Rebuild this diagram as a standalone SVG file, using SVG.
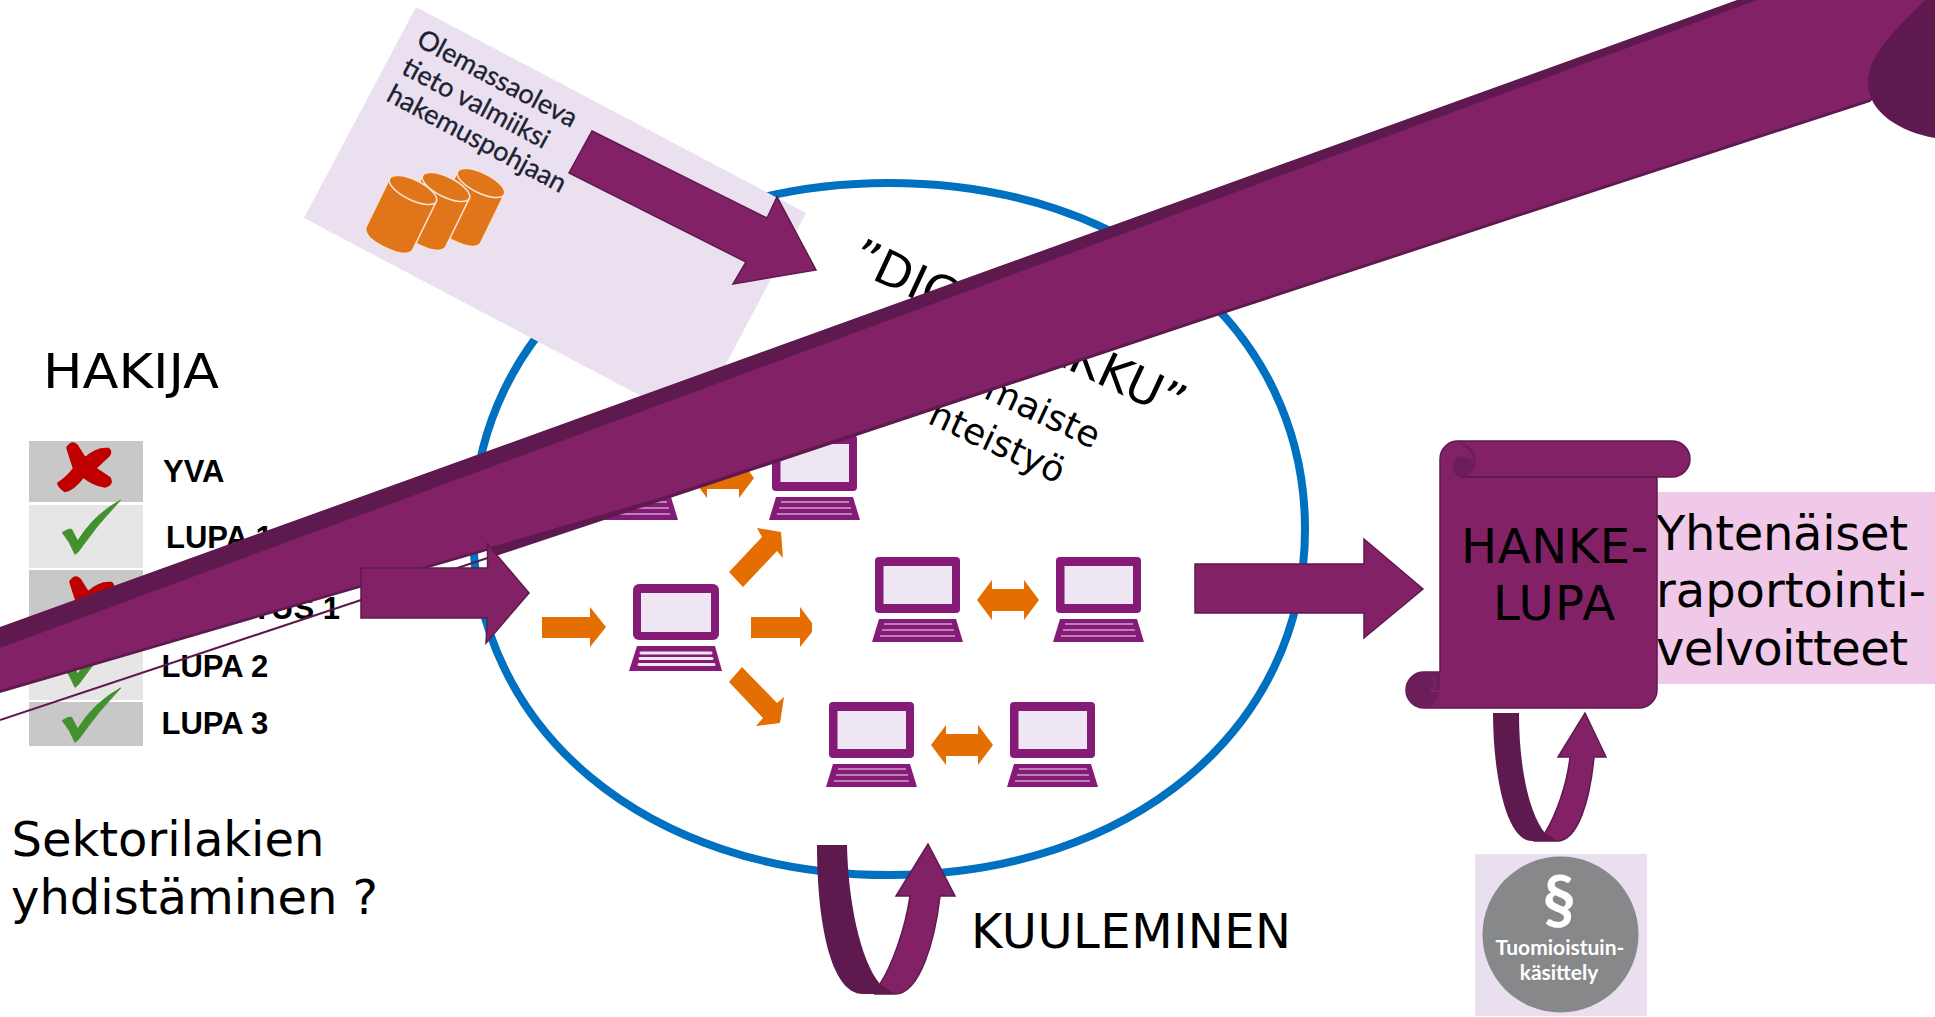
<svg xmlns="http://www.w3.org/2000/svg" xmlns:xlink="http://www.w3.org/1999/xlink" width="1935" height="1017" viewBox="0 0 1935 1017">
<style>
.t{font-family:"DejaVu Sans",sans-serif;font-size:48px;fill:#000}
.b{font-family:"Liberation Sans",Arial,sans-serif;font-size:31px;font-weight:700;fill:#000}
.g{font-family:Lato,"Open Sans",sans-serif;font-size:27px;fill:#1c2233;stroke:#1c2233;stroke-width:.3}
.c{font-family:Lato,"Open Sans",sans-serif;font-weight:700;fill:#fff;text-anchor:middle}
.p{fill:#832167;stroke:#5E1A4E;stroke-width:1.5}
.d{fill:#5E1A4E}
.o{fill:#E46E02}
.cy{fill:#E0751A;stroke:#F6E3D7;stroke-width:1.5}
.kb{stroke:#F0E6F2;stroke-width:1.2;fill:none}
</style>
<defs>
<g id="laptop">
<rect x="0" y="0" width="85" height="56" rx="4" fill="#851B76"/>
<rect x="8.500" y="9" width="68.500" height="38" fill="#EFE6F3"/>
<path d="M4,62H81L88,85H-3Z" fill="#851B76"/>
<path class="kb" d="M9,67H77M7,73H79M5,79H80"/>
</g>
<path id="cross" transform="translate(30,435) scale(.3333)" fill="#C00000" stroke="#C00000" stroke-width="7" stroke-linejoin="round" d="M112,38Q130,12 146,40L165,70Q200,38 235,42Q246,50 236,62L195,100L240,130Q248,150 225,155Q190,150 160,125Q130,165 105,168Q85,155 85,145Q115,125 132,100Q120,65 112,38Z"/>
<path id="check" transform="translate(30,435) scale(.3333)" fill="#43902F" stroke="#43902F" stroke-width="3" stroke-linejoin="round" d="M97,293Q115,280 125,283L143,318Q190,240 272,195Q200,270 145,350L135,358Q120,320 97,293Z"/>
<path id="dbl" class="o" d="M0,0L15,-20V-11H47V-20L62,0L47,20V11H15V20Z"/>
<g id="cyl"><path class="cy" d="M-26,0V54Q-24,64 0,64T26,54V0Z"/><ellipse class="cy" cx="0" cy="0" rx="26" ry="10"/></g>
</defs>

<g id="digi-circle">
<path fill="#fff" stroke="#0070C0" stroke-width="8" d="M473,529C473,328 648,183 889,183C1130,183 1305,328 1305,529C1305,730 1130,875 889,875C648,875 473,730 473,529Z"/>
<text class="t" transform="translate(848,268) rotate(25)">”DIG</text>
<text class="t" text-anchor="end" transform="translate(1176,420) rotate(25)">AKKU”</text>
<text class="t" style="font-size:36px" text-anchor="end" transform="translate(1093,449) rotate(25)">maiste</text>
<text class="t" style="font-size:36px" text-anchor="end" transform="translate(1058,484) rotate(25)">nteistyö</text>
</g>

<g id="existing-data">
<polygon points="416,7 806,213 694,424 304,218" fill="#EAE0EF"/>
<text class="g" transform="translate(415,45) rotate(28)">Olemassaoleva</text>
<text class="g" transform="translate(400,73) rotate(28)">tieto valmiiksi</text>
<text class="g" transform="translate(385,100) rotate(28)">hakemuspohjaan</text>
<use xlink:href="#cyl" href="#cyl" transform="translate(481,183) rotate(26)"/>
<use xlink:href="#cyl" href="#cyl" transform="translate(446,187) rotate(26)"/>
<use xlink:href="#cyl" href="#cyl" transform="translate(413,190) rotate(26)"/>
</g>

<g id="hakija">
<text class="t" x="43" y="388" textLength="176" lengthAdjust="spacingAndGlyphs">HAKIJA</text>
<rect x="29" y="441" width="114" height="61" fill="#C8C8C8"/>
<rect x="29" y="505" width="114" height="63" fill="#E6E6E6"/>
<rect x="29" y="570" width="114" height="62" fill="#C8C8C8"/>
<rect x="29" y="635" width="114" height="65" fill="#E6E6E6"/>
<rect x="29" y="702" width="114" height="44" fill="#C8C8C8"/>
<use xlink:href="#cross" href="#cross"/>
<use xlink:href="#check" href="#check"/>
<use xlink:href="#cross" href="#cross" transform="translate(3,134)"/>
<use xlink:href="#check" href="#check" transform="translate(0,133)"/>
<use xlink:href="#check" href="#check" transform="translate(0,188)"/>
<text class="b" x="163" y="482">YVA</text>
<text class="b" x="166" y="548">LUPA 1</text>
<text class="b" x="340" y="619" text-anchor="end">TUS 1</text>
<text class="b" x="161.500" y="677">LUPA 2</text>
<text class="b" x="161.500" y="734">LUPA 3</text>
<text class="t" x="11.500" y="856">Sektorilakien</text>
<text class="t" x="11" y="914">yhdistäminen ?</text>
</g>

<g id="laptops">
<use xlink:href="#laptop" href="#laptop" x="590" y="435"/>
<use xlink:href="#laptop" href="#laptop" x="772" y="435"/>
<use xlink:href="#laptop" href="#laptop" x="875" y="557"/>
<use xlink:href="#laptop" href="#laptop" x="1056" y="557"/>
<use xlink:href="#laptop" href="#laptop" x="829" y="702"/>
<use xlink:href="#laptop" href="#laptop" x="1010" y="702"/>
<g id="laptop-main">
<rect x="633" y="584" width="86" height="56" rx="6" fill="#851B76"/>
<rect x="641" y="593" width="70" height="39" fill="#EFE6F3"/>
<path d="M637,646H715L722,671H629Z" fill="#851B76"/>
<path d="M641,653H711M640,658.500H712M639,664.500H714" stroke="#F0E6F2" stroke-width="3" stroke-linecap="round" fill="none"/>
</g>
</g>

<g id="connectors">
<polygon class="o" points="542,617 590,617 590,607 606,627 590,647 590,638 542,638"/>
<polygon class="o" points="751,617 800,617 800,607 812,623 812,632 800,647 800,638 751,638"/>
<polygon class="o" points="729,572 762,537 757,528 781,532 783,558 777,551 743,587"/>
<polygon class="o" points="742,667 777,703 784,697 780,723 756,726 763,718 729,682"/>
<use xlink:href="#dbl" href="#dbl" x="692" y="478"/>
<use xlink:href="#dbl" href="#dbl" x="977" y="600"/>
<use xlink:href="#dbl" href="#dbl" x="931" y="745"/>
<polygon class="p" points="592,131 767,218 777,197 816,270 733,284 746,262 569,173"/>
<polygon class="p" points="1195,564 1364,564 1364,539 1423,589 1364,638 1364,613 1195,613"/>
<g id="loop-bottom">
<path class="p" d="M880,984C892,965 905,930 910,896H896L928,844L955,896H940C935,940 920,994 895,994H875Z"/>
<path class="d" d="M817,845C817,920 830,994 863,994H895L880,984C860,960 848,900 847,845Z"/>
</g>
<g id="loop-court">
<path class="p" d="M1545,833C1556,815 1567,785 1570,757H1558L1585,713L1606,757H1594C1590,800 1578,841 1557,841H1535Z"/>
<path class="d" d="M1493,713C1493,770 1505,841 1532,841H1557L1545,833C1530,815 1519,770 1519,713Z"/>
</g>
</g>

<g id="raportointi">
<rect x="1657" y="492" width="278" height="192" fill="#F0C8E8"/>
<text class="t" x="1656" y="550" textLength="252">Yhtenäiset</text>
<text class="t" x="1656" y="607">raportointi-</text>
<text class="t" x="1656" y="664.500" textLength="252">velvoitteet</text>
</g>

<g id="hankelupa">
<path class="p" d="M1458,441H1672A18,18 0 0 1 1672,477H1657V690A18,18 0 0 1 1639,708H1424A18,18 0 0 1 1424,672H1440V459A18,18 0 0 1 1458,441Z"/>
<path d="M1460,477H1657" stroke="#5E1A4E" stroke-width="2" fill="none"/>
<path fill="#6C1E5A" d="M1457,441C1470,444 1476,452 1476,461C1476,470 1470,477 1460,477A11,11 0 0 1 1460,456L1474,460C1472,452 1466,447 1457,441Z"/>
<path fill="#6C1E5A" d="M1424,672H1440V690A18,18 0 0 1 1424,708A18,18 0 0 1 1424,672Z"/>
<path d="M1433,678Q1438,688 1430,691H1440" stroke="#832167" stroke-width="2" fill="none"/>
<text class="t" x="1461" y="563" textLength="187">HANKE-</text>
<text class="t" x="1493" y="620" textLength="122">LUPA</text>
</g>

<g id="court">
<rect x="1475" y="854" width="172" height="162" fill="#EADFEE"/>
<ellipse cx="1560.500" cy="934.500" rx="78" ry="78" fill="#87888A"/>
<text class="c" style="font-size:66px" x="1559" y="924">§</text>
<text class="c" style="font-size:21px" x="1560" y="955">Tuomioistuin-</text>
<text class="c" style="font-size:21px" x="1559" y="980">käsittely</text>
</g>

<text id="kuuleminen" class="t" x="971" y="948" textLength="320">KUULEMINEN</text>

<g id="big-arrow">
<path d="M0,720L492,556.500" stroke="#5E1A4E" stroke-width="2" fill="none"/>
<polygon class="d" points="0,627 1737,0 1935,0 1935,40 1870,102 1600,190 1220,315 520,548 490,558 490,550 0,693"/>
<polygon fill="#832167" points="0,648 1757,0 1935,0 1935,40 1870,99 1600,187 1220,312 659,498 0,690"/>
<path class="d" d="M1925,0C1895,30 1868,55 1868,83C1868,112 1900,132 1935,138V0Z"/>
<polygon class="p" points="361,568 487.500,568 487.500,544 529,593 486,643 487.500,618 361,618"/>
</g>
</svg>
